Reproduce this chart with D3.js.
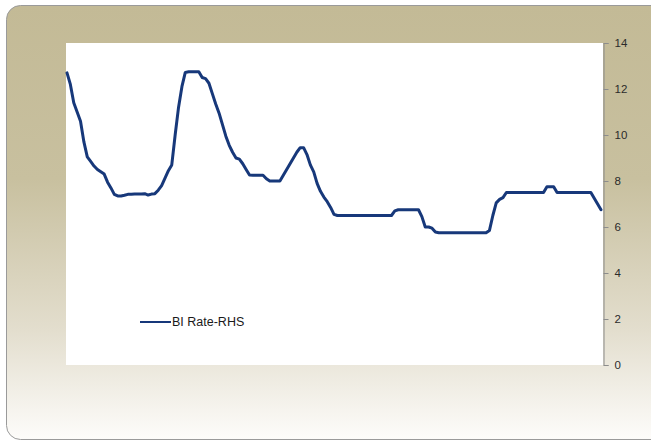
<!DOCTYPE html>
<html>
<head>
<meta charset="utf-8">
<script src="https://cdn.jsdelivr.net/npm/d3@7/dist/d3.min.js"></script>
<style>
  html, body { margin: 0; padding: 0; background: #ffffff; }
  svg { display: block; }
</style>
</head>
<body>
<svg id="chart" width="651" height="442"></svg>
<script>
// Monthly BI Rate (%), Jan 2003 – Mar 2016
const months = d3.range(159).map(i => new Date(2003, i, 1));
const biRate = [
  12.70, 12.20, 11.40, 11.00, 10.60, 9.70, 9.05, 8.85, 8.65, 8.50,
  8.40, 8.30, 7.95, 7.70, 7.42, 7.35, 7.35, 7.38, 7.42, 7.42,
  7.43, 7.43, 7.44, 7.45, 7.39, 7.43, 7.45, 7.60, 7.80, 8.12,
  8.45, 8.70, 10.00, 11.20, 12.10, 12.72, 12.75, 12.75, 12.75, 12.75,
  12.50, 12.45, 12.25, 11.80, 11.35, 10.95, 10.45, 9.95, 9.55, 9.25,
  9.00, 8.95, 8.75, 8.50, 8.26, 8.25, 8.25, 8.25, 8.25, 8.10,
  8.00, 8.00, 8.00, 8.00, 8.25, 8.50, 8.75, 9.00, 9.25, 9.45,
  9.45, 9.15, 8.70, 8.40, 7.90, 7.55, 7.30, 7.10, 6.85, 6.55,
  6.50, 6.50, 6.50, 6.50, 6.50, 6.50, 6.50, 6.50, 6.50, 6.50,
  6.50, 6.50, 6.50, 6.50, 6.50, 6.50, 6.50, 6.70, 6.75, 6.75,
  6.75, 6.75, 6.75, 6.75, 6.75, 6.45, 6.00, 6.00, 5.95, 5.78,
  5.75, 5.75, 5.75, 5.75, 5.75, 5.75, 5.75, 5.75, 5.75, 5.75,
  5.75, 5.75, 5.75, 5.75, 5.75, 5.85, 6.50, 7.05, 7.20, 7.28,
  7.50, 7.50, 7.50, 7.50, 7.50, 7.50, 7.50, 7.50, 7.50, 7.50,
  7.50, 7.50, 7.75, 7.75, 7.75, 7.50, 7.50, 7.50, 7.50, 7.50,
  7.50, 7.50, 7.50, 7.50, 7.50, 7.50, 7.25, 7.00, 6.75
];
const yTicks = [0, 2, 4, 6, 8, 10, 12, 14];
const seriesName = "BI Rate-RHS";

const svg = d3.select("#chart");
const defs = svg.append("defs");
const grad = defs.append("linearGradient").attr("id", "bg")
  .attr("x1", 0).attr("y1", 0).attr("x2", 0).attr("y2", 1);
grad.append("stop").attr("offset", "0%").attr("stop-color", "#c3ba96");
grad.append("stop").attr("offset", "40%").attr("stop-color", "#c8c09f");
grad.append("stop").attr("offset", "75%").attr("stop-color", "#e3dece");
grad.append("stop").attr("offset", "100%").attr("stop-color", "#fdfcfa");

// outer frame
svg.append("rect")
  .attr("x", 6.5).attr("y", 5.5).attr("width", 670).attr("height", 434)
  .attr("rx", 14).attr("ry", 14)
  .attr("fill", "url(#bg)").attr("stroke", "#9a9a9a").attr("stroke-width", 1);

const plot = { left: 66, top: 43, right: 603, bottom: 365 };

svg.append("rect")
  .attr("x", plot.left).attr("y", plot.top)
  .attr("width", plot.right - plot.left).attr("height", plot.bottom - plot.top)
  .attr("fill", "#ffffff");

const x = d3.scaleLinear()
  .domain([0, months.length - 1])
  .range([67, 601]);
const y = d3.scaleLinear().domain([0, 14]).range([plot.bottom, plot.top]);

// right axis
const axis = d3.axisRight(y).tickValues(yTicks).tickSize(5).tickPadding(6).tickFormat(d3.format("d"));
const ag = svg.append("g").attr("transform", `translate(${plot.right + 0.5},0)`).call(axis);
ag.select(".domain").attr("stroke", "#8c8c8c");
ag.selectAll(".tick line").attr("stroke", "#8c8c8c");
ag.selectAll(".tick text")
  .attr("fill", "#2b2b2b")
  .style("font-family", "'Liberation Sans', Arial, sans-serif")
  .style("font-size", "11.5px");

// line
const line = d3.line()
  .x((d, i) => x(i))
  .y(d => y(d))
  .curve(d3.curveLinear);
svg.append("path")
  .datum(biRate)
  .attr("d", line)
  .attr("fill", "none")
  .attr("stroke", "#17387a")
  .attr("stroke-width", 3)
  .attr("stroke-linejoin", "round")
  .attr("stroke-linecap", "round");

// legend
const lg = svg.append("g").attr("transform", "translate(140,322)");
lg.append("line").attr("x1", 0).attr("x2", 31).attr("y1", 0).attr("y2", 0)
  .attr("stroke", "#17387a").attr("stroke-width", 2);
lg.append("text").attr("x", 32).attr("y", 0).attr("dy", "0.35em")
  .attr("fill", "#1a1a1a")
  .style("font-family", "'Liberation Sans', Arial, sans-serif")
  .style("font-size", "12.5px")
  .text(seriesName);
</script>
</body>
</html>
